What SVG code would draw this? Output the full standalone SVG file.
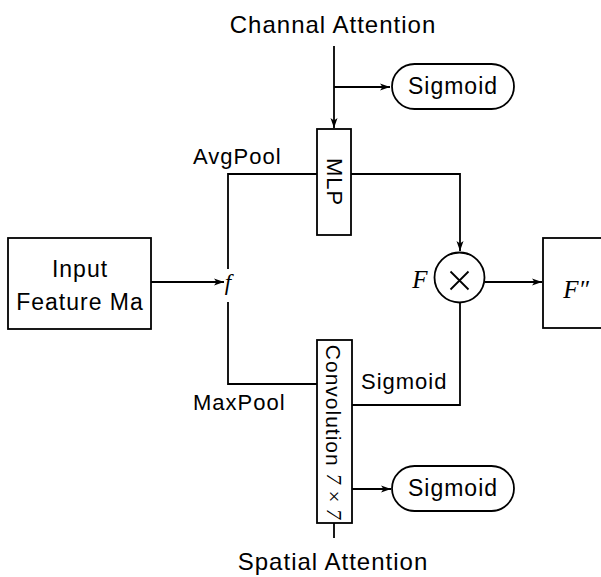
<svg xmlns="http://www.w3.org/2000/svg" width="601" height="577" viewBox="0 0 601 577">
<defs>
<marker id="arr" markerWidth="11" markerHeight="8" refX="10" refY="4" orient="auto" markerUnits="userSpaceOnUse">
<path d="M0,0.5 L10,4 L0,7.5 L2.5,4 z" fill="#000"/>
</marker>
<style>
.box{fill:#fff;stroke:#000;stroke-width:1.8}
.ln{fill:none;stroke:#000;stroke-width:1.8}
.t{font-family:"Liberation Sans",Arial,sans-serif;fill:#000;letter-spacing:1px}
.m{font-family:"Liberation Serif","Times New Roman",serif;font-style:italic;fill:#000}
</style>
</defs>
<rect width="601" height="577" fill="#fff"/>
<g id="connectors">
<line class="ln" x1="334" y1="46" x2="334" y2="128" marker-end="url(#arr)"/>
<line class="ln" x1="334" y1="87" x2="390" y2="87" marker-end="url(#arr)"/>
<line class="ln" x1="151" y1="282" x2="224" y2="282" marker-end="url(#arr)"/>
<path class="ln" d="M351,174 H460 V251" marker-end="url(#arr)"/>
<line class="ln" x1="485" y1="282" x2="542" y2="282" marker-end="url(#arr)"/>
<path class="ln" d="M460,303 V405 H352"/>
<line class="ln" x1="352" y1="489" x2="391" y2="489" marker-end="url(#arr)"/>
<path class="ln" d="M228,269 V174 H317"/>
<path class="ln" d="M228,302 V384 H317"/>
<line class="ln" x1="334" y1="523" x2="334" y2="538"/>
</g>
<g id="channel-attention"><text class="t" x="333" y="33" font-size="24" text-anchor="middle">Channal Attention</text></g>
<g id="spatial-attention"><text class="t" x="333" y="570" font-size="24" text-anchor="middle">Spatial Attention</text></g>
<g id="sigmoid-top">
<rect class="box" x="392" y="64" width="122" height="45" rx="22.5"/>
<text class="t" x="453" y="94" font-size="23" text-anchor="middle">Sigmoid</text>
</g>
<g id="sigmoid-bottom">
<rect class="box" x="392" y="466" width="122" height="45" rx="22.5"/>
<text class="t" x="453" y="496" font-size="23" text-anchor="middle">Sigmoid</text>
</g>
<g id="mlp">
<rect class="box" x="317" y="129" width="34" height="106"/>
<text class="t" transform="translate(334,182) rotate(90)" font-size="22" text-anchor="middle" dominant-baseline="central">MLP</text>
</g>
<g id="conv">
<rect class="box" x="317" y="340" width="35" height="183"/>
<text transform="translate(334,432) rotate(90)" text-anchor="middle" dominant-baseline="central"><tspan class="t" font-size="21" letter-spacing="0.5">Convolution </tspan><tspan class="m" font-style="normal" font-size="21">7 × 7</tspan></text>
</g>
<g id="input">
<rect class="box" x="8" y="238" width="143" height="91"/>
<text class="t" x="80" y="277" font-size="23" text-anchor="middle">Input</text>
<text class="t" x="80" y="310" font-size="23" text-anchor="middle">Feature Ma</text>
</g>
<g id="f-label"><text class="m" x="228" y="290" font-size="23" text-anchor="middle">f</text></g>
<g id="avgpool"><text class="t" x="193" y="164" font-size="22">AvgPool</text></g>
<g id="maxpool"><text class="t" x="193" y="410" font-size="22">MaxPool</text></g>
<g id="sigmoid-label"><text class="t" x="361" y="389" font-size="22">Sigmoid</text></g>
<g id="multiply">
<circle class="box" cx="459.5" cy="277.5" r="25"/>
<path class="ln" d="M450.5,271.5 L468.5,289.5 M468.5,271.5 L450.5,289.5"/>
<text class="m" x="420" y="288" font-size="25" text-anchor="middle">F</text>
</g>
<g id="output">
<rect class="box" x="543" y="238" width="70" height="90"/>
<text class="m" x="576" y="298" font-size="25" text-anchor="middle">F″</text>
</g>
</svg>
